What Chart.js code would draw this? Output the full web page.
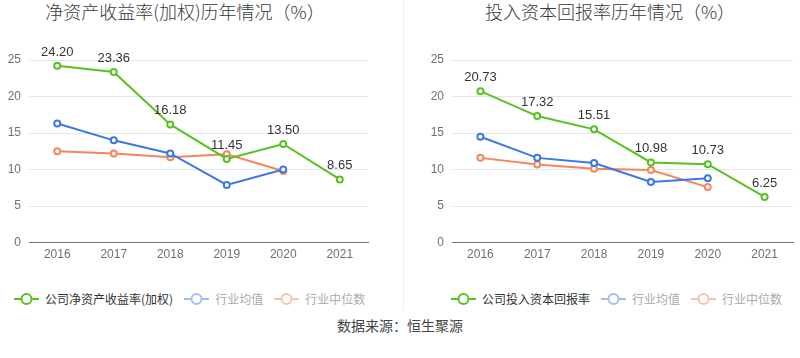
<!DOCTYPE html>
<html><head><meta charset="utf-8">
<script src="https://cdn.jsdelivr.net/npm/chart.js@4"></script>
<style>
body{margin:0;width:800px;height:358px;background:#fff;font-family:"Noto Sans CJK SC","Noto Sans",sans-serif;position:relative;overflow:hidden}
.title{position:absolute;top:-2px;font-size:18px;color:#3a3a3a;text-align:center;width:370px;white-space:nowrap;font-weight:300}
.cv{position:absolute;top:0}
.divider{position:absolute;left:403px;top:0;width:1px;height:310px;background:#eee}
.legend{position:absolute;top:290px;font-size:12px;white-space:nowrap;display:flex;align-items:center}
.li{display:flex;align-items:center;margin-right:11px}
.li svg{margin-right:6px}
.src{position:absolute;top:315px;width:800px;text-align:center;font-size:14px;color:#444}
</style></head><body>
<div class="title" style="left:0">净资产收益率(加权)历年情况（%）</div>
<div class="title" style="left:425px">投入资本回报率历年情况（%）</div>
<div class="divider"></div>
<canvas id="c1" class="cv" style="left:0" width="400" height="275"></canvas>
<canvas id="c2" class="cv" style="left:400px" width="400" height="275"></canvas>
<div class="legend" id="lg1" style="left:14px"></div>
<div class="legend" id="lg2" style="left:451px"></div>
<div class="src">数据来源：恒生聚源</div>
<script>
const years = ['2016','2017','2018','2019','2020','2021'];
const yTicks = [0,5,10,15,20,25];
const roeCompany = [24.20, 23.36, 16.18, 11.45, 13.50, 8.65];
const roeIndustryAvg = [16.3, 14.0, 12.2, 7.9, 10.0, null];
const roeIndustryMedian = [12.5, 12.2, 11.7, 12.1, 9.8, null];
const roicCompany = [20.73, 17.32, 15.51, 10.98, 10.73, 6.25];
const roicIndustryAvg = [14.5, 11.6, 10.9, 8.3, 8.8, null];
const roicIndustryMedian = [11.6, 10.7, 10.1, 9.95, 7.6, null];
const legend1 = ['公司净资产收益率(加权)', '行业均值', '行业中位数'];
const legend2 = ['公司投入资本回报率', '行业均值', '行业中位数'];

const GREEN = '#56c21f', BLUE = '#3a78e6', ORANGE = '#f5865a';
const LIGHT = ['#56c21f', '#a3bff2', '#fbc2ab'];
const TXT = ['#333', '#aaa', '#aaa'];

const labelPlugin = {
  id: 'vlabels',
  afterDatasetsDraw(chart) {
    const ctx = chart.ctx;
    const meta = chart.getDatasetMeta(0);
    const data = chart.data.datasets[0].data;
    ctx.save();
    ctx.font = '13px "Liberation Sans", Arial, sans-serif';
    ctx.fillStyle = '#333';
    ctx.textAlign = 'center';
    ctx.textBaseline = 'bottom';
    meta.data.forEach((p, i) => {
      ctx.fillText(data[i].toFixed(2), p.x, p.y - 7);
    });
    ctx.restore();
  }
};

function ds(data, color) {
  return {data, borderColor: color, backgroundColor: '#fff', borderWidth: 2,
    pointRadius: 3, pointBorderWidth: 2, pointBackgroundColor: '#fff', pointBorderColor: color,
    tension: 0, spanGaps: false};
}

function make(id, a, b, c, yWidth, rightPad) {
  new Chart(document.getElementById(id), {
    type: 'line',
    data: {labels: years, datasets: [ds(a, GREEN), ds(b, BLUE), ds(c, ORANGE)]},
    options: {
      responsive: false, animation: false,
      layout: {padding: {top: 60, right: rightPad, bottom: 8, left: 0}},
      plugins: {legend: {display: false}, tooltip: {enabled: false}},
      scales: {
        x: {offset: true, grid: {display: false, drawTicks: false}, border: {color: '#6e7079', width: 1},
            ticks: {color: '#6e7079', font: {size: 12, family: '"Liberation Sans", Arial'}, padding: 5}},
        y: {min: 0, max: 25, afterBuildTicks: s => { s.ticks = yTicks.map(v => ({value: v})); },
            afterFit: s => { s.width = yWidth; },
            grid: {color: '#e0e6f1', drawTicks: false}, border: {display: false},
            ticks: {color: '#6e7079', font: {size: 12, family: '"Liberation Sans", Arial'}, padding: 8}}
      }
    },
    plugins: [labelPlugin]
  });
}
make('c1', roeCompany, roeIndustryAvg, roeIndustryMedian, 29, 32);
make('c2', roicCompany, roicIndustryAvg, roicIndustryMedian, 52, 7);

function legend(id, names) {
  const el = document.getElementById(id);
  names.forEach((n, i) => {
    const d = document.createElement('div');
    d.className = 'li';
    d.innerHTML = `<svg width="25" height="14"><line x1="0" y1="7" x2="25" y2="7" stroke="${LIGHT[i]}" stroke-width="2"/><circle cx="12.5" cy="7" r="5" fill="#fff" stroke="${LIGHT[i]}" stroke-width="2"/></svg><span style="color:${TXT[i]}">${n}</span>`;
    el.appendChild(d);
  });
}
legend('lg1', legend1);
legend('lg2', legend2);
</script>
</body></html>
